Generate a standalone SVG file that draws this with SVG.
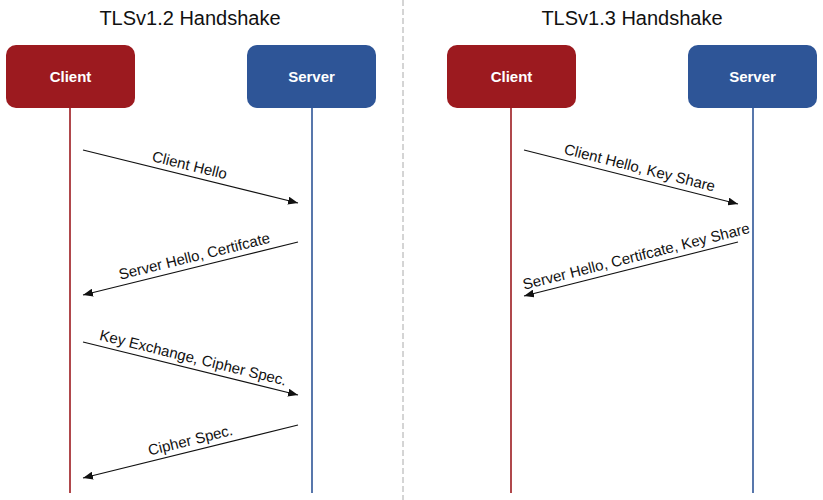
<svg xmlns="http://www.w3.org/2000/svg" width="823" height="500" viewBox="0 0 823 500">
<style>
.title{font-family:"Liberation Sans",Arial,sans-serif;font-size:20px;fill:#111;text-anchor:middle}
.box-label{font-family:"Liberation Sans",Arial,sans-serif;font-size:15px;font-weight:bold;fill:#fff;text-anchor:middle}
.msg{font-family:"Liberation Sans",Arial,sans-serif;font-size:15px;fill:#111;text-anchor:middle}
.client rect{fill:#9C1A1F}
.server rect{fill:#2E5597}
.life-c{stroke:#9C1A1F;stroke-width:1.6}
.life-s{stroke:#2E5597;stroke-width:1.6}
.arrow{stroke:#111;stroke-width:1.1;fill:none;marker-end:url(#ah)}
</style>
<defs>
<marker id="ah" viewBox="0 0 10 8" refX="10" refY="4" markerWidth="10" markerHeight="8" markerUnits="userSpaceOnUse" orient="auto">
<path d="M0,0 L10,4 L0,8 z" fill="#111"/>
</marker>
</defs>
<rect width="823" height="500" fill="#fff"/>
<line x1="403" y1="0" x2="403" y2="500" stroke="#aaa" stroke-width="1" stroke-dasharray="6,3"/>
<text class="title" x="190" y="25">TLSv1.2 Handshake</text>
<text class="title" x="632" y="25">TLSv1.3 Handshake</text>
<g id="lifelines">
<line class="life-c" x1="70" y1="108" x2="70" y2="493"/>
<line class="life-s" x1="312" y1="108" x2="312" y2="493"/>
<line class="life-c" x1="511" y1="108" x2="511" y2="493"/>
<line class="life-s" x1="753" y1="108" x2="753" y2="493"/>
</g>
<g id="client12" class="client"><rect x="6" y="45" width="129" height="63" rx="10"/><text class="box-label" x="70.5" y="82">Client</text></g>
<g id="server12" class="server"><rect x="247" y="45" width="129" height="63" rx="10"/><text class="box-label" x="311.5" y="82">Server</text></g>
<g id="client13" class="client"><rect x="447" y="45" width="129" height="63" rx="10"/><text class="box-label" x="511.5" y="82">Client</text></g>
<g id="server13" class="server"><rect x="688" y="45" width="129" height="63" rx="10"/><text class="box-label" x="752.5" y="82">Server</text></g>
<g id="connectors">
<line class="arrow" x1="83" y1="150" x2="298" y2="203"/>
<line class="arrow" x1="298" y1="242" x2="83" y2="295"/>
<line class="arrow" x1="83" y1="342" x2="298" y2="395"/>
<line class="arrow" x1="298" y1="425" x2="83" y2="478"/>
<line class="arrow" x1="524" y1="150" x2="738" y2="204"/>
<line class="arrow" x1="738" y1="242" x2="524" y2="296"/>
<text class="msg" transform="translate(187,176) rotate(13.85)" y="-6">Client Hello</text>
<text class="msg" transform="translate(197,267) rotate(-13.85)" y="-6">Server Hello, Certifcate</text>
<text class="msg" transform="translate(190.5,368.5) rotate(13.85)" y="-6">Key Exchange, Cipher Spec.</text>
<text class="msg" transform="translate(193,451) rotate(-13.85)" y="-6">Cipher Spec.</text>
<text class="msg" transform="translate(637,178.5) rotate(14.16)" y="-6">Client Hello, Key Share</text>
<text class="msg" transform="translate(639,267) rotate(-14.16)" y="-6">Server Hello, Certifcate, Key Share</text>
</g>
</svg>
